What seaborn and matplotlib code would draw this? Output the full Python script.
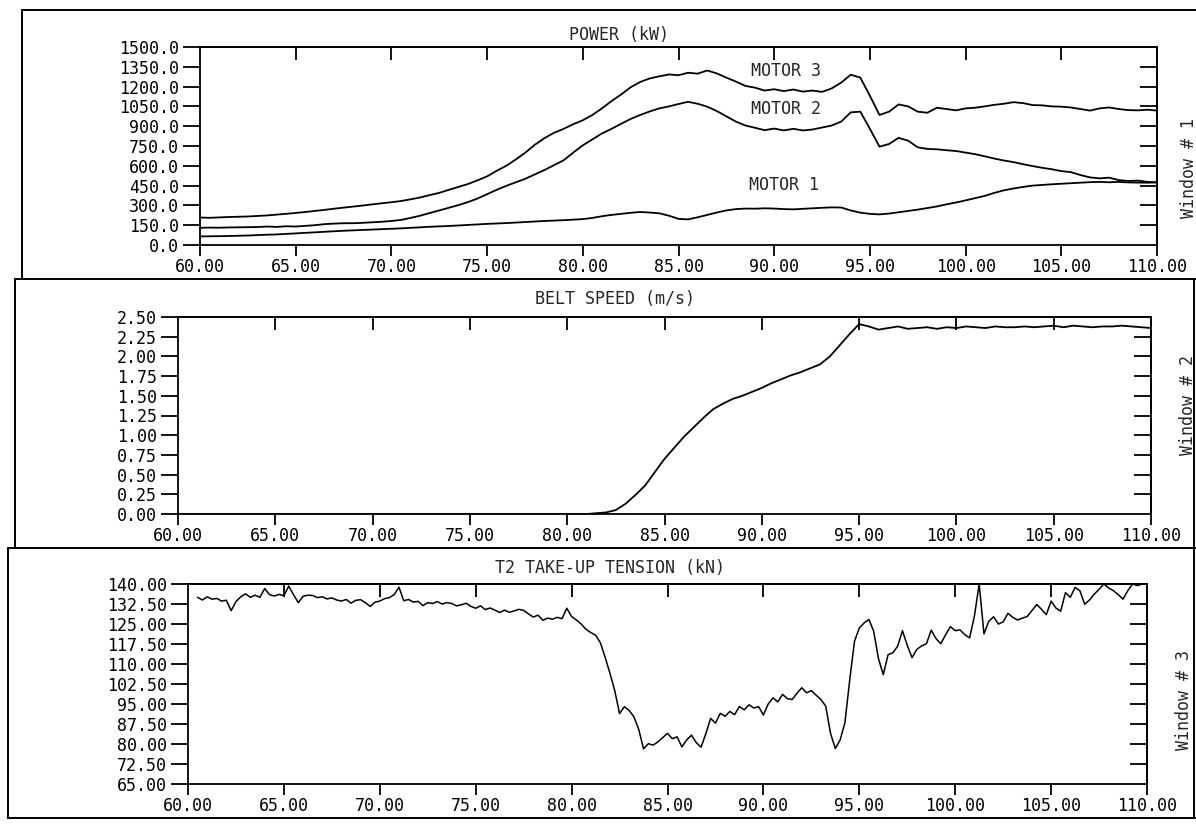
import numpy as np
import pandas as pd
import matplotlib
matplotlib.use("Agg")
import matplotlib.pyplot as plt
import seaborn as sns
from matplotlib.lines import Line2D
from matplotlib.ticker import FormatStrFormatter

# ---------------- data ----------------
x_ticks = [60, 65, 70, 75, 80, 85, 90, 95, 100, 105, 110]
power_ticks = [0, 150, 300, 450, 600, 750, 900, 1050, 1200, 1350, 1500]
speed_ticks = [0, 0.25, 0.5, 0.75, 1.0, 1.25, 1.5, 1.75, 2.0, 2.25, 2.5]
tension_ticks = [65, 72.5, 80, 87.5, 95, 102.5, 110, 117.5, 125, 132.5, 140]

power_time = np.arange(60, 110.001, 0.5)
motor3 = [208, 206, 209, 212, 214, 216, 220, 224, 230, 236,
          243, 250, 258, 266, 275, 283, 291, 299, 308, 316,
          324, 333, 346, 360, 378, 395, 418, 440, 462, 490,
          520, 562, 600, 648, 700, 760, 810, 850, 880, 915,
          945, 985, 1035, 1090, 1140, 1195, 1235, 1262, 1278, 1292,
          1286, 1305, 1298, 1322, 1300, 1268, 1238, 1205, 1192, 1170,
          1180, 1166, 1178, 1162, 1170, 1160, 1186, 1230, 1290, 1268,
          1130, 985, 1010, 1065, 1050, 1010, 1002, 1040, 1030, 1020,
          1035, 1040, 1050, 1062, 1070, 1082, 1075, 1060, 1058, 1050,
          1048, 1042, 1030, 1018, 1035, 1042, 1030, 1022, 1020, 1025,
          1018]
motor2 = [130, 132, 131, 133, 134, 135, 136, 140, 137, 142,
          140, 145, 150, 158, 162, 165, 165, 168, 172, 176,
          182, 190, 205, 222, 242, 262, 282, 302, 325, 352,
          385, 418, 448, 475, 502, 535, 568, 605, 642, 700,
          755, 800, 845, 880, 918, 955, 985, 1012, 1035, 1050,
          1068, 1085, 1070, 1048, 1015, 975, 935, 905, 888, 870,
          882, 868, 880, 868, 875, 890, 905, 935, 1005, 1010,
          880, 745, 765, 812, 790, 740, 728, 725, 718, 712,
          700, 688, 672, 655, 640, 628, 612, 598, 585, 574,
          560, 552, 530, 512, 505, 510, 492, 485, 488, 478,
          475]
motor1 = [65, 66, 67, 68, 70, 72, 75, 78, 80, 84,
          88, 92, 96, 100, 104, 108, 111, 114, 117, 120,
          123, 126, 130, 134, 138, 141, 144, 148, 152, 156,
          160, 163, 166, 170, 174, 178, 182, 185, 188, 192,
          196, 205, 218, 228, 236, 244, 250, 246, 240, 222,
          198, 194, 210, 228, 246, 262, 272, 276, 275, 278,
          276, 272, 270, 274, 278, 282, 285, 284, 262, 245,
          236, 232, 238, 248, 258, 268, 280, 292, 308, 322,
          338, 355, 372, 395, 414, 428, 440, 450, 455, 460,
          464, 468, 472, 476, 478, 475, 478, 474, 473, 472,
          474]

speed_time = np.arange(60, 110.001, 0.5)
belt_speed = [0.0, 0.0, 0.0, 0.0, 0.0, 0.0, 0.0, 0.0, 0.0, 0.0,
              0.0, 0.0, 0.0, 0.0, 0.0, 0.0, 0.0, 0.0, 0.0, 0.0,
              0.0, 0.0, 0.0, 0.0, 0.0, 0.0, 0.0, 0.0, 0.0, 0.0,
              0.0, 0.0, 0.0, 0.0, 0.0, 0.0, 0.0, 0.0, 0.0, 0.0,
              0.0, 0.0, 0.0, 0.01, 0.02, 0.05, 0.13, 0.24, 0.36, 0.53,
              0.70, 0.84, 0.98, 1.10, 1.22, 1.33, 1.40, 1.46, 1.50, 1.55,
              1.60, 1.66, 1.71, 1.76, 1.80, 1.85, 1.90, 2.00, 2.14, 2.28,
              2.41, 2.38, 2.34, 2.36, 2.38, 2.35, 2.36, 2.37, 2.35, 2.37,
              2.36, 2.38, 2.37, 2.36, 2.38, 2.37, 2.37, 2.38, 2.37, 2.38,
              2.39, 2.37, 2.39, 2.38, 2.37, 2.38, 2.38, 2.39, 2.38, 2.37,
              2.36]

tension_time = np.arange(60.5, 109.76, 0.25)
tension = [135.0, 134.0, 135.2, 134.3, 134.6, 133.6, 133.9, 130.0,
           133.4, 135.2, 136.3, 135.0, 135.8, 135.0, 138.3, 136.0,
           135.5, 136.1, 135.6, 139.2, 136.0, 133.0, 135.4, 135.8,
           135.7, 134.9, 135.2, 134.4, 134.8, 134.0, 133.6, 134.2,
           132.8, 133.9, 134.1, 133.0, 131.6, 133.2, 133.6, 134.5,
           134.9, 136.0, 138.8, 133.7, 134.2, 133.2, 133.5, 131.9,
           133.0, 132.7, 133.4, 132.5, 133.0, 132.7, 131.8, 132.2,
           132.8, 131.6, 130.9, 131.8, 130.4, 131.0, 130.2, 129.3,
           130.2, 129.4, 129.9, 130.5, 130.1, 128.8, 127.6, 128.3,
           126.4, 127.2, 126.8, 127.5, 127.0, 130.9, 127.8, 126.5,
           125.0, 123.0, 121.8, 120.8, 118.0, 112.5, 106.5, 100.0,
           91.4, 94.0, 92.6, 90.2, 85.5, 78.2, 80.1, 79.6,
           80.8, 82.4, 84.0, 82.0, 82.7, 78.9, 81.5, 83.3,
           80.5, 78.8, 83.9, 89.6, 87.8, 91.5, 90.4, 92.2,
           91.0, 94.1, 92.8, 94.7, 93.5, 94.0, 90.9, 95.0,
           97.3, 95.8, 98.6, 97.0, 96.7, 99.0, 101.1, 99.2,
           100.0, 98.3, 96.7, 94.2, 84.0, 78.3, 81.5, 88.0,
           104.0, 118.5, 123.5, 125.4, 126.7, 122.3, 112.0, 106.0,
           113.5, 114.2, 116.7, 122.5, 117.0, 112.4, 115.5, 116.8,
           117.6, 122.7, 119.5, 117.6, 121.0, 124.0, 122.5, 122.8,
           121.0, 119.8, 127.9, 140.0, 121.3, 126.0, 127.7, 125.0,
           125.8, 129.0, 127.5, 126.5, 127.2, 127.8, 130.0, 132.3,
           130.5, 128.5, 133.6, 131.0, 129.8, 136.8, 135.0, 138.7,
           137.5, 132.4, 134.0, 136.2, 138.0, 140.0, 138.5, 137.5,
           136.0, 134.3, 137.5, 140.0, 139.4, 140.0]

# ---------------- style ----------------
sns.set_style("white")
plt.rcParams["font.family"] = ["DejaVu Sans Mono", "DejaVu Sans"]
plt.rcParams["font.size"] = 12

W, H = 1196, 824
fig = plt.figure(figsize=(W / 100, H / 100), dpi=100)


def px_rect(x0, x1, ytop, ybot):
    return [x0 / W, 1 - ybot / H, (x1 - x0) / W, (ybot - ytop) / H]


LW = 1.3


def style_axes(ax, yticks, yfmt):
    ax.set_xlim(60, 110)
    ax.set_ylim(yticks[0], yticks[-1])
    ax.set_xticks(x_ticks)
    ax.set_yticks(yticks)
    ax.xaxis.set_major_formatter(FormatStrFormatter("%.2f"))
    ax.yaxis.set_major_formatter(FormatStrFormatter(yfmt))
    for s in ax.spines.values():
        s.set_color("black")
        s.set_linewidth(LW)
    ax.tick_params(axis="y", direction="out", length=12, width=LW, pad=3,
                   labelsize=12, colors="black", left=True, right=False)
    ax.tick_params(axis="x", direction="out", length=8, width=LW, pad=1.5,
                   labelsize=12, colors="black", bottom=True, top=False)
    ax.set_xlabel("")
    ax.set_ylabel("")
    sec_r = ax.secondary_yaxis("right")
    sec_r.set_yticks(yticks[1:-1])
    sec_r.tick_params(direction="in", length=12, width=LW, labelright=False,
                      colors="black")
    sec_r.spines["right"].set_linewidth(LW)
    sec_r.spines["right"].set_color("black")
    sec_t = ax.secondary_xaxis("top")
    sec_t.set_xticks(x_ticks[1:-1])
    sec_t.tick_params(direction="in", length=9, width=LW, labeltop=False,
                      colors="black")
    sec_t.spines["top"].set_linewidth(LW)
    sec_t.spines["top"].set_color("black")


# ---------------- panel 1: power ----------------
ax1 = fig.add_axes(px_rect(200, 1157, 47, 245))
power_df = pd.DataFrame({"time": np.tile(power_time, 3),
                         "power": motor1 + motor2 + motor3,
                         "motor": ["MOTOR 1"] * len(motor1)
                         + ["MOTOR 2"] * len(motor2)
                         + ["MOTOR 3"] * len(motor3)})
sns.lineplot(data=power_df, x="time", y="power", units="motor",
             estimator=None, color="black", lw=LW, ax=ax1, legend=False)
style_axes(ax1, power_ticks, "%.1f")
ax1.text(90.6, 1320, "MOTOR 3", ha="center", va="center", fontsize=12)
ax1.text(90.6, 1030, "MOTOR 2", ha="center", va="center", fontsize=12)
ax1.text(90.5, 452, "MOTOR 1", ha="center", va="center", fontsize=12)

# ---------------- panel 2: belt speed ----------------
ax2 = fig.add_axes(px_rect(178, 1151, 317, 514))
sns.lineplot(x=speed_time, y=belt_speed, estimator=None, color="black",
             lw=LW, ax=ax2)
style_axes(ax2, speed_ticks, "%.2f")

# ---------------- panel 3: tension ----------------
ax3 = fig.add_axes(px_rect(188, 1147, 584, 784))
sns.lineplot(x=tension_time, y=tension, estimator=None, color="black",
             lw=1.1, ax=ax3)
style_axes(ax3, tension_ticks, "%.2f")

# ---------------- titles and side labels ----------------
def ftext(x, y, s, **kw):
    fig.text(x / W, 1 - y / H, s, ha="center", va="center", fontsize=12, **kw)


ftext(619, 35, "POWER (kW)")
ftext(615, 299, "BELT SPEED (m/s)")
ftext(610, 568, "T2 TAKE-UP TENSION (kN)")
ftext(1189, 168, "Window # 1", rotation=90)
ftext(1188, 405, "Window # 2", rotation=90)
ftext(1184, 700, "Window # 3", rotation=90)

# ---------------- panel frames ----------------
def fline(x0, y0, x1, y1):
    fig.add_artist(Line2D([x0 / W, x1 / W], [1 - y0 / H, 1 - y1 / H],
                          color="black", lw=1.4))


fline(22, 10, 1196, 10)
fline(22, 10, 22, 279)
fline(15, 279, 1196, 279)
fline(15, 279, 15, 548)
fline(8, 548, 1196, 548)
fline(8, 548, 8, 818)
fline(8, 818, 1196, 818)
fline(1194, 279, 1194, 818)

fig.savefig("out.png", dpi=100, facecolor="white")
